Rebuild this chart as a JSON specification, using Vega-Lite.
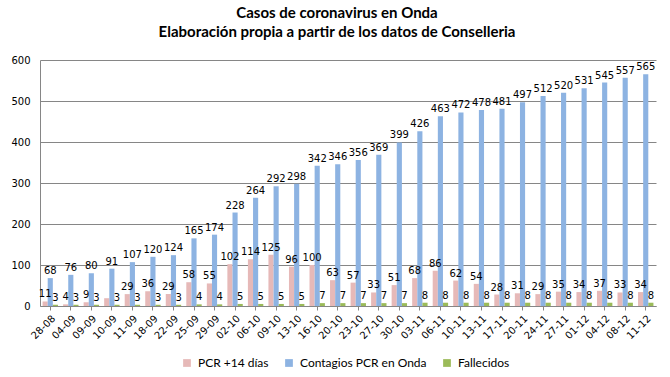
{
  "$schema": "https://vega.github.io/schema/vega-lite/v6.json",
  "width": 616,
  "height": 246,
  "autosize": {"type": "none"},
  "padding": {"left": 40, "top": 60, "right": 14, "bottom": 71},
  "background": "white",
  "title": {
    "text": ["Casos de coronavirus en Onda", "Elaboración propia a partir de los datos de Conselleria"],
    "font": "Lato",
    "fontSize": 15,
    "fontWeight": "bold",
    "color": "#000000",
    "lineHeight": 19,
    "anchor": "middle",
    "dx": -11,
    "offset": 15
  },
  "data": {
    "values": [
      {"fecha": "28-08", "pcr": 11, "contagios": 68, "fallecidos": 3},
      {"fecha": "04-09", "pcr": 4, "contagios": 76, "fallecidos": 3},
      {"fecha": "09-09", "pcr": 9, "contagios": 80, "fallecidos": 3},
      {"fecha": "10-09", "pcr": 19, "contagios": 91, "fallecidos": 3},
      {"fecha": "11-09", "pcr": 29, "contagios": 107, "fallecidos": 3},
      {"fecha": "18-09", "pcr": 36, "contagios": 120, "fallecidos": 3},
      {"fecha": "22-09", "pcr": 29, "contagios": 124, "fallecidos": 3},
      {"fecha": "25-09", "pcr": 58, "contagios": 165, "fallecidos": 4},
      {"fecha": "29-09", "pcr": 55, "contagios": 174, "fallecidos": 4},
      {"fecha": "02-10", "pcr": 102, "contagios": 228, "fallecidos": 5},
      {"fecha": "06-10", "pcr": 114, "contagios": 264, "fallecidos": 5},
      {"fecha": "09-10", "pcr": 125, "contagios": 292, "fallecidos": 5},
      {"fecha": "13-10", "pcr": 96, "contagios": 298, "fallecidos": 5},
      {"fecha": "16-10", "pcr": 100, "contagios": 342, "fallecidos": 7},
      {"fecha": "20-10", "pcr": 63, "contagios": 346, "fallecidos": 7},
      {"fecha": "23-10", "pcr": 57, "contagios": 356, "fallecidos": 7},
      {"fecha": "27-10", "pcr": 33, "contagios": 369, "fallecidos": 7},
      {"fecha": "30-10", "pcr": 51, "contagios": 399, "fallecidos": 7},
      {"fecha": "03-11", "pcr": 68, "contagios": 426, "fallecidos": 8},
      {"fecha": "06-11", "pcr": 86, "contagios": 463, "fallecidos": 8},
      {"fecha": "10-11", "pcr": 62, "contagios": 472, "fallecidos": 8},
      {"fecha": "13-11", "pcr": 54, "contagios": 478, "fallecidos": 8},
      {"fecha": "17-11", "pcr": 28, "contagios": 481, "fallecidos": 8},
      {"fecha": "20-11", "pcr": 31, "contagios": 497, "fallecidos": 8},
      {"fecha": "24-11", "pcr": 29, "contagios": 512, "fallecidos": 8},
      {"fecha": "27-11", "pcr": 35, "contagios": 520, "fallecidos": 8},
      {"fecha": "01-12", "pcr": 34, "contagios": 531, "fallecidos": 8},
      {"fecha": "04-12", "pcr": 37, "contagios": 545, "fallecidos": 8},
      {"fecha": "08-12", "pcr": 33, "contagios": 557, "fallecidos": 8},
      {"fecha": "11-12", "pcr": 34, "contagios": 565, "fallecidos": 8}
    ]
  },
  "transform": [
    {"fold": ["pcr", "contagios", "fallecidos"], "as": ["serie", "valor"]}
  ],
  "encoding": {
    "x": {
      "field": "fecha",
      "type": "nominal",
      "sort": null,
      "scale": {"paddingInner": 0.25, "paddingOuter": 0.125},
      "axis": {
        "title": null,
        "labelAngle": -45,
        "labelFont": "DejaVu Sans",
        "labelFontSize": 10,
        "labelColor": "#000000",
        "domainColor": "#868686",
        "tickColor": "#868686",
        "tickSize": 4,
        "labelPadding": 3
      }
    },
    "xOffset": {
      "field": "serie",
      "type": "nominal",
      "sort": ["pcr", "contagios", "fallecidos"],
      "scale": {"domain": ["pcr", "contagios", "fallecidos"], "paddingInner": 0}
    },
    "y": {
      "field": "valor",
      "type": "quantitative",
      "scale": {"domain": [0, 600]},
      "axis": {
        "title": null,
        "values": [0, 100, 200, 300, 400, 500, 600],
        "labelFont": "DejaVu Sans",
        "labelFontSize": 10,
        "labelColor": "#000000",
        "gridColor": "#868686",
        "domainColor": "#868686",
        "ticks": false,
        "labelPadding": 10
      }
    }
  },
  "layer": [
    {
      "mark": {"type": "bar"},
      "encoding": {
        "color": {
          "field": "serie",
          "type": "nominal",
          "scale": {
            "domain": ["pcr", "contagios", "fallecidos"],
            "range": ["#E6B9B8", "#8DB3E2", "#9BBB59"]
          },
          "legend": {
            "title": null,
            "orient": "none",
            "legendX": 141,
            "legendY": 297,
            "direction": "horizontal",
            "symbolType": "square",
            "symbolSize": 60,
            "symbolStrokeWidth": 0,
            "labelFont": "Lato",
            "labelFontSize": 12,
            "labelOffset": 5,
            "labelColor": "#000000",
            "columnPadding": 14,
            "labelExpr": "datum.value == 'pcr' ? 'PCR +14 días' : datum.value == 'contagios' ? 'Contagios PCR en Onda' : 'Fallecidos'"
          }
        }
      }
    },
    {
      "transform": [
        {"filter": "!(datum.fecha == '10-09' && datum.serie == 'pcr')"}
      ],
      "mark": {"type": "text", "baseline": "bottom", "dy": -2, "font": "DejaVu Sans", "fontSize": 10, "color": "#000000"},
      "encoding": {
        "text": {"field": "valor", "type": "quantitative"}
      }
    }
  ],
  "config": {
    "view": {"stroke": null}
  }
}
